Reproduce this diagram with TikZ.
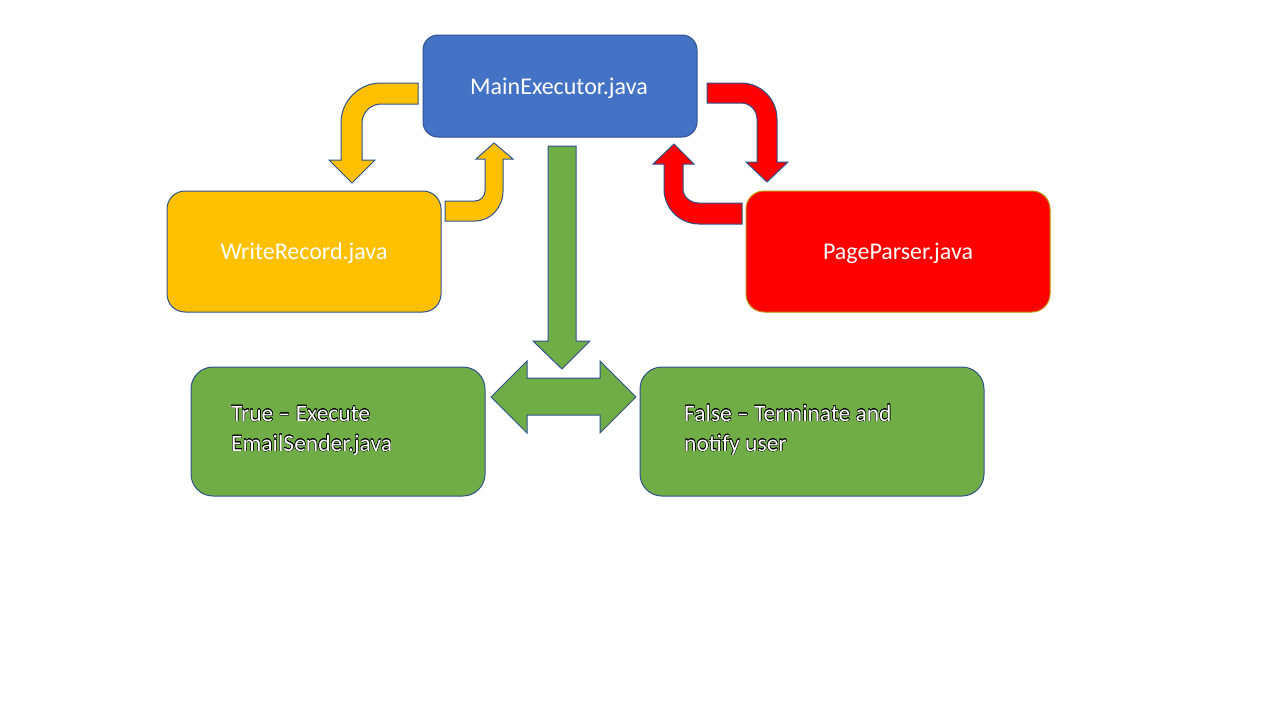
\documentclass[tikz,border=0pt]{standalone}
\usepackage{fontspec}
\setmainfont{Carlito}
\usepackage{contour}
\contourlength{0.35pt}
\definecolor{bblue}{HTML}{4472C4}
\definecolor{bline}{HTML}{2F528F}
\definecolor{yel}{HTML}{FFC000}
\definecolor{rd}{HTML}{FF0000}
\definecolor{grn}{HTML}{70AD47}
\definecolor{gold}{HTML}{BF9000}
\tikzset{
  box/.style={draw=bline, line width=1pt, rounded corners=18pt, text=white,
    font=\fontsize{24}{28}\selectfont, inner sep=0pt},
  lbl/.style={text=white, font=\fontsize{24}{28}\selectfont, inner sep=0pt},
  shapearrow/.style={draw=bline, line width=1pt, line join=miter},
  gtext/.style={anchor=base west, inner sep=0pt, text=white, font=\fontsize{23.5}{27}\selectfont}
}
\begin{document}
\begin{tikzpicture}[x=1pt,y=-1pt]
\useasboundingbox[fill=white] (0,0) rectangle (1280,720);
% boxes
\node[box, fill=bblue, minimum width=274pt, minimum height=102pt, rounded corners=15pt] (main) at (560,86) {};
\node[box, fill=yel, minimum width=274pt, minimum height=121pt] (write) at (304,251.5) {};
\node[box, fill=rd, draw=gold, minimum width=304pt, minimum height=121pt] (parser) at (898,251.5) {};
\node[lbl, anchor=base] (mainlbl) at (559,94) {MainExecutor.java};
\node[lbl, anchor=base] (writelbl) at (304,259) {WriteRecord.java};
\node[lbl, anchor=base] (parserlbl) at (898,259) {PageParser.java};
\node[box, fill=grn, minimum width=294pt, minimum height=129pt, rounded corners=22pt] (truebox) at (338,431.5) {};
\node[box, fill=grn, minimum width=344pt, minimum height=129pt, rounded corners=22pt] (falsebox) at (812,431.5) {};
\node[gtext] (t1) at (231,421) {\contour{black}{True – Execute}};
\node[gtext] (t2) at (231,451) {\contour{black}{EmailSender.java}};
\node[gtext] (f1) at (684,421) {\contour{black}{False – Terminate and}};
\node[gtext] (f2) at (684,451) {\contour{black}{notify user}};
% yellow arrow main -> write
\draw[shapearrow, fill=yel] (418,83) -- (381,83) .. controls (358.9,83) and (341,100.9) .. (341,123)
  -- (341,160) -- (329,160) -- (352,183) -- (375,160) -- (362,160) -- (362,123)
  .. controls (362,112.5) and (370.5,104) .. (381,104) -- (418,104) -- cycle;
% yellow arrow write -> main
\draw[shapearrow, fill=yel] (445,201) -- (445,221) -- (475,221) .. controls (490.5,221) and (503,207.6) .. (503,191)
  -- (503,159) -- (513,159) -- (494,143) -- (476,159) -- (485,159) -- (485,191)
  .. controls (485,196.5) and (480.5,201) .. (475,201) -- cycle;
% red arrow main -> parser
\draw[shapearrow, fill=rd] (707,83) -- (741,83) .. controls (760.9,83) and (777,99.1) .. (777,119)
  -- (777,162) -- (788,162) -- (767,182) -- (746,162) -- (757,162) -- (757,119)
  .. controls (757,110.2) and (749.8,103) .. (741,103) -- (707,103) -- cycle;
% red arrow parser -> main
\draw[shapearrow, fill=rd] (742,203) -- (742,224) -- (699,224) .. controls (679.7,224) and (664,208.3) .. (664,189)
  -- (664,164) -- (653,164) -- (674,144) -- (694,164) -- (683,164) -- (683,189)
  .. controls (683,196.7) and (690.2,203) .. (699,203) -- cycle;
% green down arrow
\draw[shapearrow, fill=grn] (548,146) -- (576,146) -- (576,341) -- (590,341) -- (562,369) -- (533,341) -- (548,341) -- cycle;
% green double arrow
\draw[shapearrow, fill=grn] (491,397) -- (527,361) -- (527,378) -- (600,378) -- (600,361) -- (636,397)
  -- (600,433) -- (600,415) -- (527,415) -- (527,433) -- cycle;
\end{tikzpicture}
\end{document}
